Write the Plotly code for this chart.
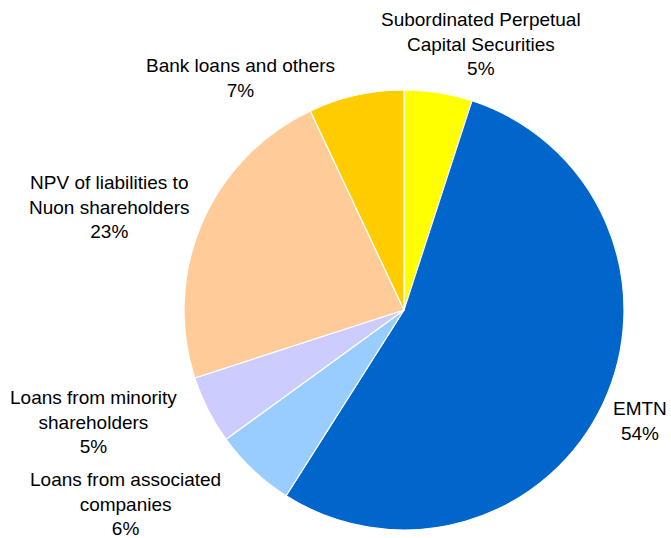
import plotly.graph_objects as go

# Debt composition by source (percent of total)
categories = [
    "Subordinated Perpetual<br>Capital Securities",
    "EMTN",
    "Loans from associated<br>companies",
    "Loans from minority<br>shareholders",
    "NPV of liabilities to<br>Nuon shareholders",
    "Bank loans and others",
]
shares = [5, 54, 6, 5, 23, 7]
colors = ["#FFFF00", "#0066CC", "#99CCFF", "#CCCCFF", "#FFCC99", "#FFCC00"]

W, H = 671, 538

fig = go.Figure(
    go.Pie(
        labels=categories,
        values=shares,
        sort=False,
        direction="clockwise",
        rotation=0,
        marker=dict(colors=colors, line=dict(color="white", width=1.2)),
        textinfo="none",
        hoverinfo="label+percent",
        domain=dict(x=[184 / W, 624 / W], y=[1 - 530 / H, 1 - 90 / H]),
        showlegend=False,
    )
)

# Outside labels: (pixel x centre, pixel y centre) for each category
label_pos = [(481, 44), (640, 421), (125, 504), (93, 422), (110, 207), (240, 78)]
for name, val, (px, py) in zip(categories, shares, label_pos):
    fig.add_annotation(
        x=px / W, y=1 - py / H, xref="paper", yref="paper",
        text=f"{name}<br>{val}%", showarrow=False,
        xanchor="center", yanchor="middle", align="center",
        font=dict(family="Liberation Sans, Arial, sans-serif", size=19, color="#000000"),
    )

fig.update_layout(
    width=W, height=H,
    margin=dict(l=0, r=0, t=0, b=0),
    paper_bgcolor="white", plot_bgcolor="white",
)

fig.write_html("out.html")
